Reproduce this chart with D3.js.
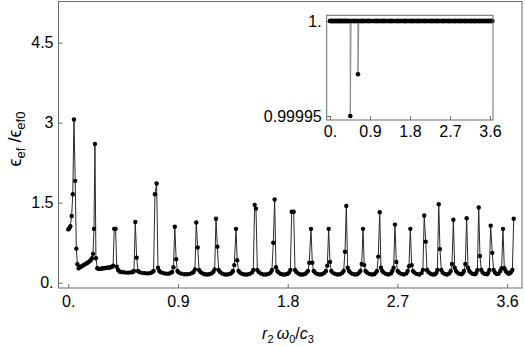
<!DOCTYPE html>
<html>
<head>
<meta charset="utf-8">
<script src="https://cdn.jsdelivr.net/npm/d3@7"></script>
<style>
body { margin: 0; background: #fff; }
text { font-family: "Liberation Sans", Arial, sans-serif; }
</style>
</head>
<body>
<div id="wrapper"></div>
<script>
// r2*w0/c3 vs eps_ef/eps_ef0
const mainPoints = [
    [0.000,1.00],[0.008,1.02],[0.017,1.06],[0.028,1.25],[0.037,1.66],[0.047,3.06],[0.057,1.91],[0.066,0.64],[0.075,0.345],[0.085,0.27],
    [0.096,0.29],[0.107,0.305],[0.118,0.32],[0.129,0.335],[0.140,0.35],[0.151,0.365],[0.162,0.38],[0.173,0.40],[0.184,0.42],[0.195,0.46],
    [0.203,0.54],[0.211,1.01],[0.219,2.60],[0.227,0.46],[0.238,0.27],
    [0.249,0.26],[0.260,0.26],[0.271,0.265],[0.282,0.27],[0.293,0.27],[0.304,0.275],[0.315,0.28],[0.326,0.28],[0.337,0.285],[0.348,0.29],[0.359,0.30],
    [0.368,0.32],[0.377,1.01],[0.388,1.01],[0.398,0.30],[0.409,0.24],
    [0.420,0.21],[0.431,0.20],[0.453,0.195],[0.475,0.19],[0.497,0.19],[0.519,0.195],[0.530,0.20],
    [0.539,0.22],[0.550,1.14],[0.561,0.47],[0.572,0.22],
    [0.583,0.20],[0.605,0.185],[0.627,0.18],[0.649,0.175],[0.671,0.18],[0.689,0.195],
    [0.700,0.22],[0.711,1.66],[0.725,1.86],[0.736,0.28],[0.747,0.22],
    [0.758,0.195],[0.780,0.18],[0.802,0.17],[0.824,0.17],[0.841,0.185],
    [0.852,0.20],[0.863,0.29],[0.874,1.05],[0.885,0.44],[0.896,0.22],
    [0.907,0.19],[0.929,0.17],[0.951,0.16],[0.973,0.16],[0.995,0.165],[1.017,0.185],
    [1.028,0.20],[1.039,0.25],[1.050,1.13],[1.062,0.66],[1.073,0.24],
    [1.084,0.20],[1.102,0.175],[1.120,0.16],[1.138,0.155],[1.156,0.16],[1.174,0.175],
    [1.190,0.20],[1.201,0.25],[1.212,1.20],[1.223,0.675],[1.234,0.24],
    [1.245,0.20],[1.265,0.17],[1.285,0.155],[1.305,0.155],[1.325,0.165],[1.340,0.185],
    [1.351,0.22],[1.362,0.33],[1.376,1.01],[1.386,0.42],[1.397,0.22],
    [1.408,0.19],[1.428,0.165],[1.448,0.155],[1.468,0.155],[1.488,0.165],[1.507,0.19],
    [1.518,0.24],[1.529,1.46],[1.540,1.39],[1.551,0.24],
    [1.562,0.20],[1.582,0.17],[1.602,0.155],[1.622,0.155],[1.642,0.165],[1.660,0.19],
    [1.671,0.24],[1.682,0.75],[1.693,1.56],[1.704,0.29],[1.715,0.22],
    [1.726,0.19],[1.744,0.165],[1.762,0.155],[1.780,0.155],[1.798,0.165],[1.811,0.19],
    [1.822,0.24],[1.833,1.33],[1.849,1.33],[1.860,0.24],
    [1.871,0.20],[1.889,0.17],[1.907,0.155],[1.925,0.155],[1.943,0.165],[1.955,0.19],
    [1.966,0.22],[1.977,0.375],[1.991,1.01],[2.002,0.375],[2.013,0.22],
    [2.024,0.19],[2.043,0.165],[2.062,0.155],[2.081,0.16],[2.100,0.185],
    [2.114,0.22],[2.125,0.32],[2.136,1.01],[2.147,0.39],[2.158,0.22],
    [2.169,0.19],[2.189,0.165],[2.209,0.155],[2.229,0.16],[2.248,0.185],
    [2.259,0.22],[2.270,0.58],[2.281,1.44],[2.292,0.28],[2.303,0.22],
    [2.314,0.19],[2.333,0.165],[2.352,0.155],[2.371,0.16],[2.385,0.185],
    [2.396,0.22],[2.407,0.35],[2.418,1.01],[2.428,0.33],[2.439,0.22],
    [2.450,0.19],[2.470,0.165],[2.490,0.155],[2.510,0.16],[2.521,0.185],
    [2.532,0.22],[2.543,0.49],[2.555,1.32],[2.565,0.28],[2.576,0.22],
    [2.587,0.19],[2.607,0.165],[2.627,0.155],[2.647,0.175],
    [2.658,0.22],[2.669,0.28],[2.680,1.09],[2.691,0.39],[2.702,0.22],
    [2.713,0.19],[2.733,0.165],[2.753,0.155],[2.773,0.175],
    [2.784,0.22],[2.795,0.31],[2.806,1.01],[2.817,0.33],[2.828,0.22],
    [2.839,0.19],[2.859,0.165],[2.879,0.155],[2.898,0.18],
    [2.909,0.24],[2.920,1.26],[2.932,0.77],[2.943,0.24],
    [2.954,0.20],[2.972,0.17],[2.990,0.155],[3.008,0.16],[3.020,0.185],
    [3.028,0.24],[3.039,1.47],[3.049,0.63],[3.060,0.24],
    [3.071,0.19],[3.089,0.165],[3.107,0.155],[3.125,0.175],
    [3.137,0.22],[3.148,0.35],[3.159,1.18],[3.170,0.28],[3.181,0.22],
    [3.192,0.19],[3.209,0.165],[3.226,0.16],[3.237,0.18],
    [3.246,0.22],[3.257,0.35],[3.268,1.21],[3.279,0.28],[3.290,0.22],
    [3.301,0.19],[3.319,0.165],[3.337,0.16],[3.347,0.185],
    [3.356,0.24],[3.367,1.41],[3.377,0.50],[3.388,0.24],
    [3.399,0.19],[3.417,0.165],[3.435,0.16],[3.445,0.185],
    [3.454,0.24],[3.465,1.07],[3.478,0.56],[3.489,0.24],
    [3.500,0.19],[3.515,0.165],[3.530,0.17],
    [3.544,0.22],[3.555,0.27],[3.566,1.01],[3.577,0.27],[3.588,0.22],
    [3.599,0.19],[3.610,0.17],[3.621,0.175],
    [3.632,0.20],[3.643,0.24],[3.654,1.20]
];
const xTicks = [0, 0.9, 1.8, 2.7, 3.6];
const xTickLabels = ["0.", "0.9", "1.8", "2.7", "3.6"];
const yTicks = [0, 1.5, 3, 4.5];
const yTickLabels = ["0.", "1.5", "3", "4.5"];

// inset: ratio stays at 1 on every sample except two dips
const insetLevel = 1;
const insetDips = [[0.457, 0.99995], [0.630, 0.999972]];
const insetXTicks = [0, 0.9, 1.8, 2.7, 3.6];
const insetXTickLabels = ["0.", "0.9", "1.8", "2.7", "3.6"];
const insetYTicks = [0.99995, 1];
const insetYTickLabels = ["0.99995", "1."];

let dimensions = {
    width: 525,
    height: 346,
    plot: { left: 58.5, right: 522, top: 1.5, bottom: 288 },
    inset: { left: 326.7, right: 493, top: 15.3, bottom: 120 }
}

const frameColor = "#6a6a6a";
const fontSize = 16;

let wrapper = d3.select("#wrapper").append("svg")
    .attr("width", dimensions.width)
    .attr("height", dimensions.height);

const xAccessor = d => d[0];
const yAccessor = d => d[1];

function drawSeries(g, data, xs, ys, r, lineColor) {
    const line = d3.line().x(d => xs(xAccessor(d))).y(d => ys(yAccessor(d)));
    g.append("path")
        .datum(data)
        .attr("d", line)
        .attr("fill", "none")
        .attr("stroke", lineColor)
        .attr("stroke-width", 1);
    g.selectAll("circle")
        .data(data)
        .enter()
        .append("circle")
        .attr("cx", d => xs(xAccessor(d)))
        .attr("cy", d => ys(yAccessor(d)))
        .attr("r", r)
        .attr("fill", "#000");
}

function styleAxis(axis) {
    axis.select(".domain").remove();
    axis.selectAll(".tick line").attr("stroke", frameColor);
    axis.selectAll(".tick text")
        .attr("fill", "#000")
        .style("font-family", "'Liberation Sans', Arial, sans-serif")
        .style("font-size", fontSize + "px");
}

function framedPlot(box, xDomain, yDomain, xt, xtl, yt, ytl, xPad, yPad) {
    const xs = d3.scaleLinear().domain(xDomain).range([box.left, box.right]);
    const ys = d3.scaleLinear().domain(yDomain).range([box.bottom, box.top]);

    wrapper.append("rect")
        .attr("x", box.left).attr("y", box.top)
        .attr("width", box.right - box.left).attr("height", box.bottom - box.top)
        .attr("fill", "#fff");

    const axisX = wrapper.append("g")
        .attr("transform", `translate(0, ${box.bottom})`)
        .call(d3.axisBottom(xs).tickValues(xt).tickFormat((d, i) => xtl[i])
            .tickSizeInner(-4).tickSizeOuter(0).tickPadding(xPad));
    styleAxis(axisX);

    const axisY = wrapper.append("g")
        .attr("transform", `translate(${box.left}, 0)`)
        .call(d3.axisLeft(ys).tickValues(yt).tickFormat((d, i) => ytl[i])
            .tickSizeInner(-4).tickSizeOuter(0).tickPadding(yPad));
    styleAxis(axisY);

    return { xs, ys };
}

// main plot
const main = framedPlot(dimensions.plot, [-0.080, 3.722], [-0.099, 5.273],
    xTicks, xTickLabels, yTicks, yTickLabels, 8, 5);
drawSeries(wrapper.append("g"), mainPoints, main.xs, main.ys, 2.2, "#2a2a2a");

wrapper.append("rect")
    .attr("x", dimensions.plot.left).attr("y", dimensions.plot.top)
    .attr("width", dimensions.plot.right - dimensions.plot.left)
    .attr("height", dimensions.plot.bottom - dimensions.plot.top)
    .attr("fill", "none")
    .attr("stroke", frameColor);

// inset
const insetPoints = mainPoints
    .map(d => [xAccessor(d), insetLevel])
    .concat(insetDips)
    .sort((a, b) => a[0] - b[0]);

const inset = framedPlot(dimensions.inset, [-0.074, 3.668], [0.9999479, 1.000003],
    insetXTicks, insetXTickLabels, insetYTicks, insetYTickLabels, 6, 5);
drawSeries(wrapper.append("g"), insetPoints, inset.xs, inset.ys, 2.3, "#8a8a8a");

wrapper.append("rect")
    .attr("x", dimensions.inset.left).attr("y", dimensions.inset.top)
    .attr("width", dimensions.inset.right - dimensions.inset.left)
    .attr("height", dimensions.inset.bottom - dimensions.inset.top)
    .attr("fill", "none")
    .attr("stroke", frameColor);

// axis labels
const xLabel = wrapper.append("text")
    .attr("x", 288)
    .attr("y", 339)
    .attr("text-anchor", "middle")
    .style("font-size", fontSize + "px");
[["r", true, false], ["2", false, true], ["\u2009ω", true, false], ["0", false, true],
 ["/", false, false], ["c", true, false], ["3", false, true]].forEach(p => {
    xLabel.append("tspan")
        .attr("font-style", p[1] ? "italic" : "normal")
        .attr("font-size", p[2] ? "11px" : null)
        .attr("dy", p[2] ? 4 : (p[0] === "2" ? 0 : null))
        .text(p[0]);
});
// put baseline back after each subscript
xLabel.selectAll("tspan").each(function(d, i, nodes) {
    if (i > 0 && nodes[i - 1].getAttribute("font-size") === "11px" && !this.getAttribute("font-size")) {
        d3.select(this).attr("dy", -4);
    }
});

const yLabel = wrapper.append("text")
    .attr("transform", "translate(21, 139) rotate(-90)")
    .attr("text-anchor", "middle")
    .style("font-size", "18px");
[["ϵ", false], ["ef", true], [" /", false], ["ϵ", false], ["ef0", true]].forEach((p, i, arr) => {
    let dy = null;
    if (p[1]) dy = 4;
    else if (i > 0 && arr[i - 1][1]) dy = -4;
    yLabel.append("tspan")
        .attr("font-size", p[1] ? "13px" : null)
        .attr("dy", dy)
        .text(p[0]);
});
</script>
</body>
</html>
